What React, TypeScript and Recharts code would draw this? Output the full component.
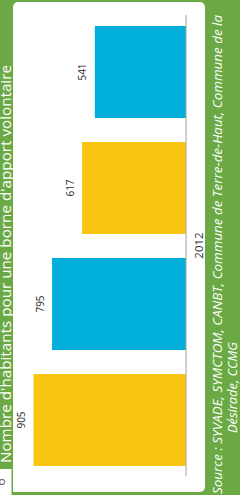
import { BarChart, Bar, XAxis, YAxis, LabelList } from 'recharts';

// one year, four bars (top to bottom as drawn)
const YEARS = ['2012'];
const SERIES = ['b1', 'b2', 'b3', 'b4'];
const VALUES = [541, 617, 795, 905];
const COLORS = ['#00aedb', '#f8c513', '#00aedb', '#f8c513'];

const TITLE = "Nombre d'habitants pour une borne d'apport volontaire";
const SOURCE_LINE_1 = 'Source : SYVADE, SYMCTOM, CANBT, Commune de Terre-de-Haut, Commune de la';
const SOURCE_LINE_2 = 'Désirade, CCMG';
const PAGE = '6';

const GREEN = '#6aa944';
const FONT = "'Open Sans', 'DejaVu Sans', sans-serif";

const data = YEARS.map((year) => {
  const row: Record<string, string | number> = { year };
  SERIES.forEach((key, i) => {
    row[key] = VALUES[i];
  });
  return row;
});

const renderValue = (props: any) => {
  const vb = props.viewBox ?? props;
  const x = Number(vb.x ?? props.x);
  const w = Number(vb.width ?? props.width);
  const y = Number(vb.y ?? props.y);
  const h = Number(vb.height ?? props.height);
  const left = Math.min(x, x + w);
  const cy = y + h / 2;
  const bx = left - 8.5;
  return (
    <text
      transform={`translate(${bx},${cy}) rotate(-90)`}
      textAnchor="middle"
      fontSize={10}
      fontFamily={FONT}
      fill="#2b2b2b"
    >
      {props.value}
    </text>
  );
};

const YearTick = ({ y, payload }: any) => (
  <text
    transform={`translate(203,${y}) rotate(-90)`}
    textAnchor="middle"
    fontSize={11.5}
    fontFamily={FONT}
    fill="#333"
  >
    {payload.value}
  </text>
);

function Frame() {
  return (
    <svg width={240} height={504} style={{ position: 'absolute', left: 0, top: 0 }}>
      <rect x={0} y={0} width={240} height={504} fill="#fff" />
      <rect x={0} y={0} width={240} height={495} fill={GREEN} />
      <rect x={13} y={2} width={192} height={490} rx={5} fill="#fff" />
      <rect x={13} y={480} width={12} height={12} fill="#fff" />
      <rect x={0} y={469} width={11.5} height={26} fill="#fff" />
      <text
        transform="translate(4.5,482) rotate(-90)"
        textAnchor="middle"
        fontSize={13}
        fontFamily={FONT}
        fill="#666"
      >
        {PAGE}
      </text>
      <text
        transform="translate(10.5,463) rotate(-90)"
        fontSize={14}
        fontFamily={FONT}
        fill="#fff"
        textLength={398}
        lengthAdjust="spacingAndGlyphs"
      >
        {TITLE}
      </text>
      <text
        transform="translate(222,494) rotate(-90)"
        fontSize={12.5}
        fontStyle="italic"
        fontFamily={FONT}
        fill="#fff"
        textLength={479}
        lengthAdjust="spacingAndGlyphs"
      >
        {SOURCE_LINE_1}
      </text>
      <text
        transform="translate(237,433) rotate(-90)"
        fontSize={12.5}
        fontStyle="italic"
        fontFamily={FONT}
        fill="#fff"
        textLength={91}
        lengthAdjust="spacingAndGlyphs"
      >
        {SOURCE_LINE_2}
      </text>
    </svg>
  );
}

export default function App() {
  return (
    <div style={{ position: 'absolute', left: 0, top: 0, width: 240, height: 504 }}>
      <Frame />
      <div style={{ position: 'absolute', left: 0, top: 0 }}>
        <BarChart
          width={240}
          height={504}
          data={data}
          layout="vertical"
          margin={{ top: 15, right: 0, bottom: 28, left: 17.5 }}
          barGap={24}
        >
          <XAxis type="number" domain={[0, 1000]} reversed hide />
          <YAxis
            type="category"
            dataKey="year"
            orientation="right"
            width={54}
            axisLine={{ stroke: '#a3a3a3', strokeWidth: 1 }}
            tickLine={false}
            tick={<YearTick />}
          />
          {SERIES.map((key, i) => (
            <Bar key={key} dataKey={key} fill={COLORS[i]} barSize={92} isAnimationActive={false}>
              <LabelList dataKey={key} content={renderValue} />
            </Bar>
          ))}
        </BarChart>
      </div>
    </div>
  );
}
